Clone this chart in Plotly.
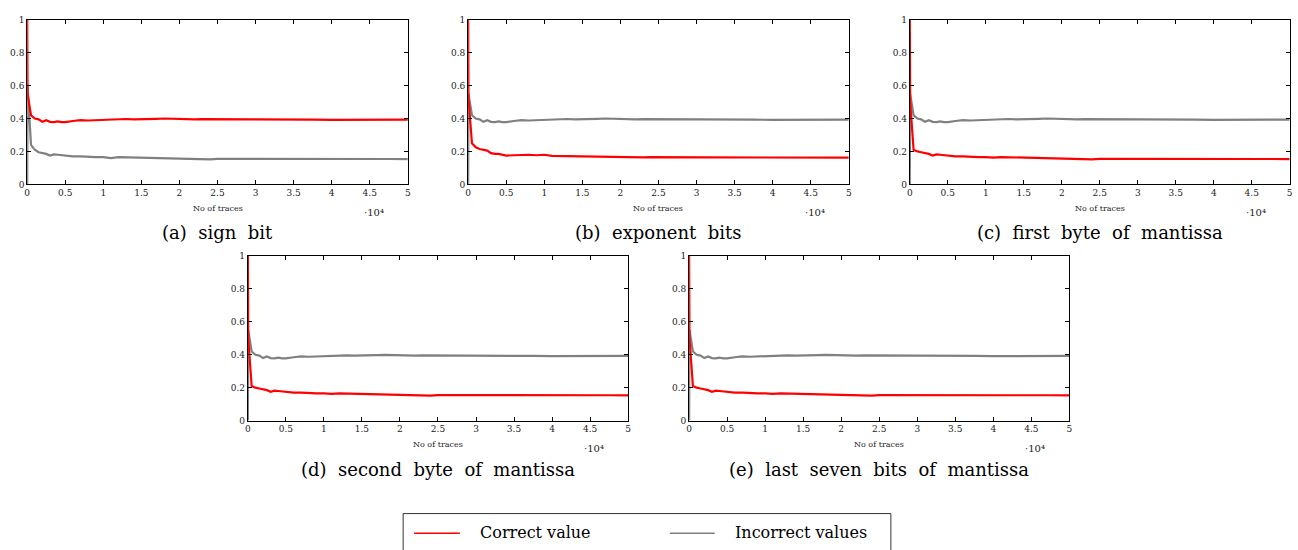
import plotly.graph_objects as go

# ---------------- data ----------------
traces_x = [0, 50, 500, 1000, 1500, 2000, 2500, 3000, 3500, 4000, 4500, 5000, 6000, 7000,
            8000, 9000, 10000, 11000, 12000, 13000, 14000, 15000, 16000, 17000, 18000,
            19000, 20000, 21000, 22000, 23000, 24000, 25000, 27500, 30000, 32500, 35000,
            37500, 40000, 42500, 45000, 47500, 50000]

sign_correct = [1.0, 0.55, 0.42, 0.40, 0.395, 0.38, 0.39, 0.38, 0.378, 0.382, 0.378, 0.378,
                0.385, 0.39, 0.388, 0.39, 0.395, 0.395, 0.397, 0.397, 0.395, 0.395, 0.396,
                0.398, 0.40, 0.398, 0.395, 0.395, 0.395, 0.396, 0.396, 0.396, 0.397, 0.395,
                0.395, 0.394, 0.393, 0.392, 0.392, 0.39, 0.39, 0.393]
sign_incorrect = [0.0, 0.6, 0.24, 0.21, 0.195, 0.19, 0.185, 0.175, 0.182, 0.18, 0.177, 0.173,
                  0.17, 0.17, 0.166, 0.165, 0.166, 0.16, 0.165, 0.164, 0.161, 0.16, 0.16,
                  0.158, 0.156, 0.155, 0.154, 0.152, 0.152, 0.152, 0.152, 0.155, 0.155, 0.157,
                  0.158, 0.158, 0.158, 0.157, 0.156, 0.155, 0.154, 0.153]

exp_correct = [1.0, 0.52, 0.25, 0.225, 0.215, 0.21, 0.205, 0.19, 0.185, 0.185, 0.182, 0.175,
               0.177, 0.18, 0.18, 0.177, 0.18, 0.173, 0.172, 0.172, 0.17, 0.17, 0.17, 0.169,
               0.167, 0.167, 0.167, 0.166, 0.165, 0.164, 0.165, 0.165, 0.165, 0.166, 0.166,
               0.166, 0.165, 0.163, 0.162, 0.162, 0.162, 0.162]
exp_incorrect = [0.0, 0.55, 0.42, 0.40, 0.395, 0.38, 0.39, 0.38, 0.378, 0.382, 0.378, 0.378,
                 0.385, 0.39, 0.388, 0.39, 0.395, 0.395, 0.397, 0.397, 0.395, 0.395, 0.396,
                 0.398, 0.40, 0.398, 0.395, 0.395, 0.395, 0.396, 0.396, 0.396, 0.397, 0.395,
                 0.395, 0.394, 0.393, 0.392, 0.392, 0.39, 0.39, 0.393]

mant_correct = [1.0, 0.5, 0.21, 0.20, 0.195, 0.19, 0.185, 0.175, 0.182, 0.18, 0.178, 0.173,
                0.17, 0.17, 0.166, 0.165, 0.166, 0.162, 0.166, 0.165, 0.162, 0.16, 0.16,
                0.158, 0.157, 0.156, 0.155, 0.153, 0.155, 0.152, 0.152, 0.155, 0.155, 0.157,
                0.158, 0.158, 0.158, 0.157, 0.156, 0.155, 0.154, 0.153]
mant_incorrect = exp_incorrect

panel_correct = [sign_correct, exp_correct, mant_correct, mant_correct, mant_correct]
panel_incorrect = [sign_incorrect, exp_incorrect, mant_incorrect, mant_incorrect, mant_incorrect]

captions = ["(a)  sign  bit", "(b)  exponent  bits", "(c)  first  byte  of  mantissa",
            "(d)  second  byte  of  mantissa", "(e)  last  seven  bits  of  mantissa"]
x_title = "No of traces"
x_scale_label = "·10⁴"
x_tickvals = [0, 5000, 10000, 15000, 20000, 25000, 30000, 35000, 40000, 45000, 50000]
x_ticktext = ["0", "0.5", "1", "1.5", "2", "2.5", "3", "3.5", "4", "4.5", "5"]
y_tickvals = [0, 0.2, 0.4, 0.6, 0.8, 1]
y_ticktext = ["0", "0.2", "0.4", "0.6", "0.8", "1"]
series_names = ["Correct value", "Incorrect values"]

# ---------------- layout geometry (pixels) ----------------
W, H = 1298, 550
# (left, right, top, bottom) of each plot area
boxes = [(24.3, 406.7, 15, 182.7), (467.3, 849.7, 15, 182.7), (911, 1292.7, 15, 182.7),
         (246, 628, 255.7, 423.3), (689.3, 1071.3, 255.7, 423.3)]

RED = "#ff0000"
GRAY = "#808080"
TICKFONT = dict(family="DejaVu Serif", size=9, color="#222222")

fig = go.Figure()
layout = dict(width=W, height=H, margin=dict(l=0, r=0, t=0, b=0),
              paper_bgcolor="white", plot_bgcolor="white", showlegend=False)
annotations = []
shapes = []

def px(x):
    return x / W

def py(y):
    return 1 - y / H

for i, (l, r, t, b) in enumerate(boxes):
    n = i + 1
    xa = "x" if n == 1 else f"x{n}"
    ya = "y" if n == 1 else f"y{n}"
    fig.add_trace(go.Scatter(x=traces_x, y=panel_incorrect[i], mode="lines",
                             line=dict(color=GRAY, width=2.2), name=series_names[1],
                             xaxis=xa, yaxis=ya))
    fig.add_trace(go.Scatter(x=traces_x, y=panel_correct[i], mode="lines",
                             line=dict(color=RED, width=2.2), name=series_names[0],
                             xaxis=xa, yaxis=ya))
    common = dict(showline=True, linecolor="black", linewidth=1, mirror="allticks",
                  ticks="inside", ticklen=4, tickwidth=1, tickcolor="black",
                  showgrid=False, zeroline=False, tickfont=TICKFONT)
    layout["xaxis" if n == 1 else f"xaxis{n}"] = dict(
        domain=[px(l), px(r)], anchor=ya, range=[0, 50000],
        tickmode="array", tickvals=x_tickvals, ticktext=x_ticktext, **common)
    layout["yaxis" if n == 1 else f"yaxis{n}"] = dict(
        domain=[py(b), py(t)], anchor=xa, range=[0, 1],
        tickmode="array", tickvals=y_tickvals, ticktext=y_ticktext, **common)
    cx = (l + r) / 2
    annotations.append(dict(x=px(cx), y=py(b + 24.5), xref="paper", yref="paper",
                            text=x_title, showarrow=False, xanchor="center", yanchor="middle",
                            font=dict(family="DejaVu Serif", size=8, color="#222222")))
    annotations.append(dict(x=px(r - 22), y=py(b + 28.5), xref="paper", yref="paper",
                            text=x_scale_label, showarrow=False, xanchor="right",
                            yanchor="middle",
                            font=dict(family="DejaVu Serif", size=10, color="#222222")))
    annotations.append(dict(x=px(cx), y=py(b + 49.5), xref="paper", yref="paper",
                            text=captions[i], showarrow=False, xanchor="center",
                            yanchor="middle",
                            font=dict(family="DejaVu Serif", size=18, color="black")))

# legend box drawn at the bottom
shapes.append(dict(type="rect", xref="paper", yref="paper", x0=px(402), x1=px(892),
                   y0=py(565), y1=py(518), line=dict(color="#333333", width=1),
                   fillcolor="rgba(0,0,0,0)"))
shapes.append(dict(type="line", xref="paper", yref="paper", x0=px(413), x1=px(459),
                   y0=py(538), y1=py(538), line=dict(color=RED, width=1.5)))
shapes.append(dict(type="line", xref="paper", yref="paper", x0=px(670), x1=px(715),
                   y0=py(538), y1=py(538), line=dict(color=GRAY, width=1.5)))
annotations.append(dict(x=px(477), y=py(537), xref="paper", yref="paper",
                        text=series_names[0], showarrow=False, xanchor="left",
                        yanchor="middle",
                        font=dict(family="DejaVu Serif", size=16, color="black")))
annotations.append(dict(x=px(733), y=py(537), xref="paper", yref="paper",
                        text=series_names[1], showarrow=False, xanchor="left",
                        yanchor="middle",
                        font=dict(family="DejaVu Serif", size=16, color="black")))

layout["annotations"] = annotations
layout["shapes"] = shapes
fig.update_layout(**layout)
fig.write_html("out.html")
